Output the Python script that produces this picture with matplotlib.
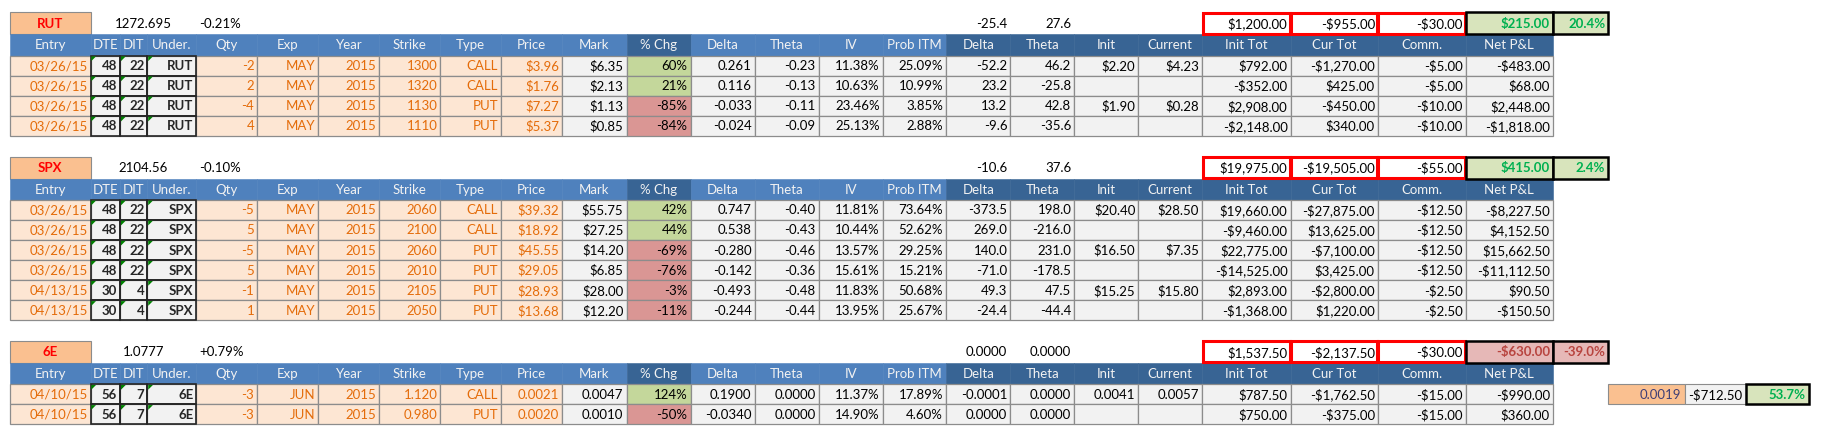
import matplotlib.pyplot as plt
from matplotlib.patches import Rectangle, Polygon

plt.rcParams['font.family'] = ['Lato', 'DejaVu Sans']

headers = ["Entry", "DTE", "DIT", "Under.", "Qty", "Exp", "Year", "Strike", "Type",
           "Price", "Mark", "% Chg", "Delta", "Theta", "IV", "Prob ITM", "Delta",
           "Theta", "Init", "Current", "Init Tot", "Cur Tot", "Comm.", "Net P&L"]

# summary: last, change, delta, theta, init tot, cur tot, comm, net, net %
rut_summary = ["1272.695", "-0.21%", "-25.4", "27.6", "$1,200.00", "-$955.00", "-$30.00", "$215.00", "20.4%"]
spx_summary = ["2104.56", "-0.10%", "-10.6", "37.6", "$19,975.00", "-$19,505.00", "-$55.00", "$415.00", "2.4%"]
e6_summary = ["1.0777", "+0.79%", "0.0000", "0.0000", "$1,537.50", "-$2,137.50", "-$30.00", "-$630.00", "-39.0%"]

rut_legs = [
    ["03/26/15", "48", "22", "RUT", "-2", "MAY", "2015", "1300", "CALL", "$3.96", "$6.35", "60%", "0.261", "-0.23", "11.38%", "25.09%", "-52.2", "46.2", "$2.20", "$4.23", "$792.00", "-$1,270.00", "-$5.00", "-$483.00"],
    ["03/26/15", "48", "22", "RUT", "2", "MAY", "2015", "1320", "CALL", "$1.76", "$2.13", "21%", "0.116", "-0.13", "10.63%", "10.99%", "23.2", "-25.8", "", "", "-$352.00", "$425.00", "-$5.00", "$68.00"],
    ["03/26/15", "48", "22", "RUT", "-4", "MAY", "2015", "1130", "PUT", "$7.27", "$1.13", "-85%", "-0.033", "-0.11", "23.46%", "3.85%", "13.2", "42.8", "$1.90", "$0.28", "$2,908.00", "-$450.00", "-$10.00", "$2,448.00"],
    ["03/26/15", "48", "22", "RUT", "4", "MAY", "2015", "1110", "PUT", "$5.37", "$0.85", "-84%", "-0.024", "-0.09", "25.13%", "2.88%", "-9.6", "-35.6", "", "", "-$2,148.00", "$340.00", "-$10.00", "-$1,818.00"],
]

spx_legs = [
    ["03/26/15", "48", "22", "SPX", "-5", "MAY", "2015", "2060", "CALL", "$39.32", "$55.75", "42%", "0.747", "-0.40", "11.81%", "73.64%", "-373.5", "198.0", "$20.40", "$28.50", "$19,660.00", "-$27,875.00", "-$12.50", "-$8,227.50"],
    ["03/26/15", "48", "22", "SPX", "5", "MAY", "2015", "2100", "CALL", "$18.92", "$27.25", "44%", "0.538", "-0.43", "10.44%", "52.62%", "269.0", "-216.0", "", "", "-$9,460.00", "$13,625.00", "-$12.50", "$4,152.50"],
    ["03/26/15", "48", "22", "SPX", "-5", "MAY", "2015", "2060", "PUT", "$45.55", "$14.20", "-69%", "-0.280", "-0.46", "13.57%", "29.25%", "140.0", "231.0", "$16.50", "$7.35", "$22,775.00", "-$7,100.00", "-$12.50", "$15,662.50"],
    ["03/26/15", "48", "22", "SPX", "5", "MAY", "2015", "2010", "PUT", "$29.05", "$6.85", "-76%", "-0.142", "-0.36", "15.61%", "15.21%", "-71.0", "-178.5", "", "", "-$14,525.00", "$3,425.00", "-$12.50", "-$11,112.50"],
    ["04/13/15", "30", "4", "SPX", "-1", "MAY", "2015", "2105", "PUT", "$28.93", "$28.00", "-3%", "-0.493", "-0.48", "11.83%", "50.68%", "49.3", "47.5", "$15.25", "$15.80", "$2,893.00", "-$2,800.00", "-$2.50", "$90.50"],
    ["04/13/15", "30", "4", "SPX", "1", "MAY", "2015", "2050", "PUT", "$13.68", "$12.20", "-11%", "-0.244", "-0.44", "13.95%", "25.67%", "-24.4", "-44.4", "", "", "-$1,368.00", "$1,220.00", "-$2.50", "-$150.50"],
]

e6_legs = [
    ["04/10/15", "56", "7", "6E", "-3", "JUN", "2015", "1.120", "CALL", "0.0021", "0.0047", "124%", "0.1900", "0.0000", "11.37%", "17.89%", "-0.0001", "0.0000", "0.0041", "0.0057", "$787.50", "-$1,762.50", "-$15.00", "-$990.00"],
    ["04/10/15", "56", "7", "6E", "-3", "JUN", "2015", "0.980", "PUT", "0.0020", "0.0010", "-50%", "-0.0340", "0.0000", "14.90%", "4.60%", "0.0000", "0.0000", "", "", "$750.00", "-$375.00", "-$15.00", "$360.00"],
]
e6_extra = ["0.0019", "-$712.50", "53.7%"]

# layout (pixels)
col_edges = [9.5, 90.5, 120.2, 147.4, 196.4, 257.3, 318.2, 379.4, 440.3, 501.2, 562.0,
             626.5, 690.5, 754.6, 818.6, 882.6, 946.2, 1010.3, 1074.3, 1138.3, 1202.0,
             1290.5, 1377.9, 1465.6, 1553.0]
pct_right = 1608.3
extra_edges = [1608.3, 1684.6, 1745.5, 1808.7]
title_h, head_h, row_h, gap_h = 22.0, 21.3, 20.1, 20.5
FS = 9.5

orange_cols = {0, 4, 5, 6, 7, 8, 9}
bold_cols = {1, 2, 3}

fig = plt.figure(figsize=(18.29, 4.36), dpi=100)
ax = fig.add_axes([0, 0, 1, 1])
ax.set_xlim(0, 1829)
ax.set_ylim(436, 0)
ax.axis('off')


def box(x0, x1, y0, y1, fc, ec, lw, z=1):
    ax.add_patch(Rectangle((x0, y0), x1 - x0, y1 - y0, facecolor=fc,
                           edgecolor=ec, linewidth=lw, zorder=z))


def put(x0, x1, y0, y1, s, align='right', **kw):
    if align == 'right':
        x, ha = x1 - 3, 'right'
    elif align == 'left':
        x, ha = x0 + 3, 'left'
    else:
        x, ha = (x0 + x1) / 2, 'center'
    ax.text(x, (y0 + y1) / 2 + 0.5, s, ha=ha, va='center', fontsize=FS, zorder=5, **kw)


def draw_section(y, ticker, summary, legs):
    e = col_edges
    y1 = y + title_h
    # title row
    box(e[0], e[1], y, y1, '#FAC090', '#8C8C8C', 0.8)
    put(e[0], e[1], y, y1, ticker, 'center', color='#FF0000', fontweight='bold')
    put(e[1], e[4], y, y1, summary[0], 'center', color='black')
    put(e[4], e[5], y, y1, summary[1], 'left', color='black')
    put(e[16], e[17], y, y1, summary[2], color='black')
    put(e[17], e[18], y, y1, summary[3], color='black')
    for k, c in enumerate([20, 21, 22]):
        box(e[c] + 0.5, e[c + 1] - 0.5, y + 0.5, y1 - 0.5, 'white', '#FF0000', 2.2, z=3)
        put(e[c], e[c + 1], y, y1, summary[4 + k], color='black')
    neg = summary[7].startswith('-')
    fc = '#E6B8B7' if neg else '#D8E4BC'
    tc = '#B8443F' if neg else '#00B050'
    for k, (xa, xb) in enumerate([(e[23], e[24]), (e[24], pct_right)]):
        box(xa, xb, y, y1, fc, 'black', 1.8, z=3)
        put(xa, xb, y, y1, summary[7 + k], color=tc, fontweight='bold')
    # header row
    y2 = y1 + head_h
    for c, h in enumerate(headers):
        hc = '#386494' if (c == 11 or c >= 16) else '#4F81BD'
        box(e[c], e[c + 1], y1, y2, hc, hc, 0.4)
        put(e[c], e[c + 1], y1, y2, h, 'center', color='#F2F2F2')
    # legs
    for r, leg in enumerate(legs):
        ya = y2 + r * row_h
        yb = ya + row_h
        for c, s in enumerate(leg):
            if c in orange_cols:
                fc, tc = '#FDE6D3', '#E46C0A'
            elif c == 11:
                fc = '#DA9694' if s.startswith('-') else '#C4D79B'
                tc = 'black'
            else:
                fc, tc = '#F2F2F2', 'black'
            box(e[c], e[c + 1], ya, yb, fc, '#8C8C8C', 0.9)
            if c in bold_cols:
                put(e[c], e[c + 1], ya, yb, s, color='#262626', fontweight='bold')
            else:
                put(e[c], e[c + 1], ya, yb, s, color=tc)
        for c in bold_cols:
            box(e[c], e[c + 1], ya, yb, 'none', '#262626', 1.2, z=3)
            ax.add_patch(Polygon([(e[c] + 0.8, ya + 0.8), (e[c] + 5.5, ya + 0.8),
                                  (e[c] + 0.8, ya + 5.5)], closed=True,
                                 facecolor='#008000', edgecolor='none', zorder=4))
    return y2 + len(legs) * row_h + gap_h


y = 12.3
y = draw_section(y, "RUT", rut_summary, rut_legs)
y = draw_section(y, "SPX", spx_summary, spx_legs)
y_e6 = y
draw_section(y, "6E", e6_summary, e6_legs)

# extra cells next to first 6E leg
ya = y_e6 + title_h + head_h
yb = ya + row_h
xe = extra_edges
box(xe[0], xe[1], ya, yb, '#FAC090', '#8C8C8C', 0.8)
put(xe[0], xe[1], ya, yb, e6_extra[0], color='#3F3F76')
box(xe[1], xe[2], ya, yb, '#F2F2F2', '#8C8C8C', 0.8)
put(xe[1], xe[2], ya, yb, e6_extra[1], color='black')
box(xe[2], xe[3], ya, yb, '#D8E4BC', 'black', 1.8, z=3)
put(xe[2], xe[3], ya, yb, e6_extra[2], color='#00B050', fontweight='bold')

fig.savefig('out.png', dpi=100)
